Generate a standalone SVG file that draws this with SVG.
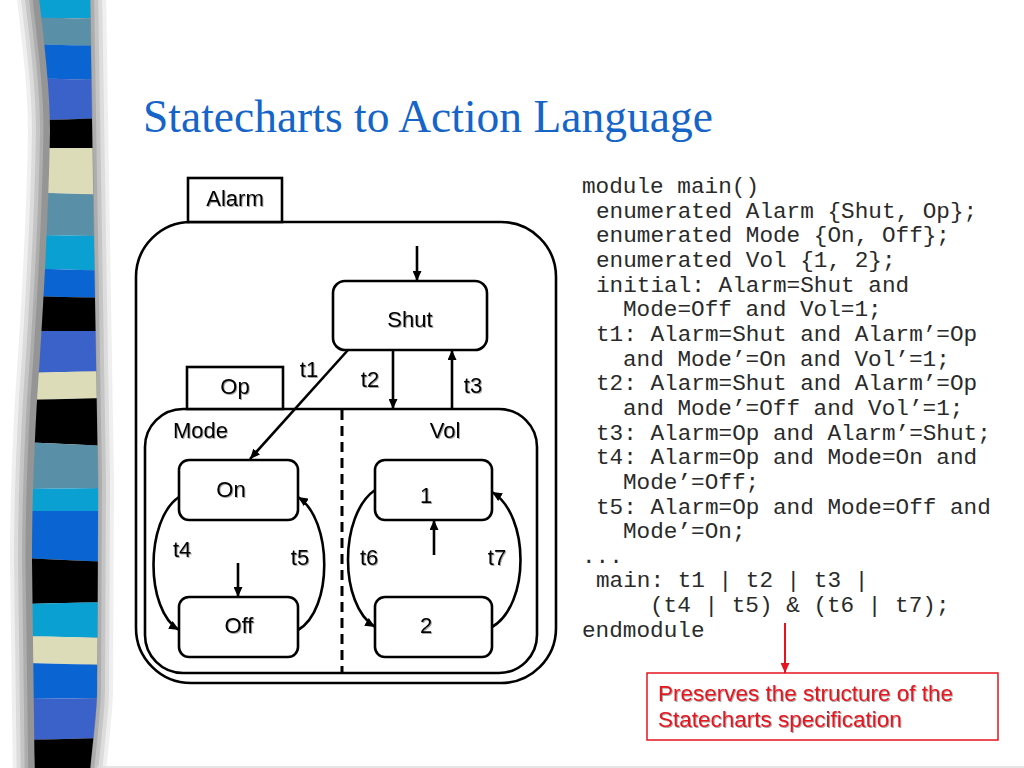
<svg xmlns="http://www.w3.org/2000/svg" width="1024" height="768" viewBox="0 0 1024 768">
  <defs>
    <style>
      .box { fill: #ffffff; stroke: #000000; stroke-width: 2.6; }
      .lbl { font-family: "Liberation Sans", Arial, sans-serif; font-size: 22px; fill: #000000; filter: url(#tshadow); }
      .mid { text-anchor: middle; }
      .conn { fill: none; stroke: #000000; stroke-width: 2.6; }
      .code { font-family: "Liberation Mono", "Courier New", monospace; font-size: 22.7px; fill: #2a2a2a; }
      .red { font-family: "Liberation Sans", Arial, sans-serif; font-size: 22.5px; fill: #e5141e; filter: url(#tshadow); }
      .sh { fill: none; stroke: #505050; stroke-linejoin: round; }
    </style>
    <marker id="ah" markerUnits="userSpaceOnUse" viewBox="0 0 10 9" refX="10" refY="4.5" markerWidth="10" markerHeight="9" orient="auto">
      <path d="M0,0 L10,4.5 L0,9 z" fill="#000000"/>
    </marker>
    <marker id="ahr" markerUnits="userSpaceOnUse" viewBox="0 0 10 9" refX="10" refY="4.5" markerWidth="10" markerHeight="9" orient="auto">
      <path d="M0,0 L10,4.5 L0,9 z" fill="#e5141e"/>
    </marker>
    <filter id="tshadow" x="-10%" y="-10%" width="130%" height="140%">
      <feDropShadow dx="1" dy="1" stdDeviation="0.6" flood-color="#000000" flood-opacity="0.35"/>
    </filter>
    <path id="barshape" d="M38,-10 C44,40 50,90 50,130 C49,200 44,300 37,400 C33,470 32,520 32,560 C33,640 34,700 35,790 L88,790 C93,740 97,710 97,690 C98,600 98,520 98,480 C97,420 96,360 95,300 C94,240 92,120 90,-10 Z"/>
    <clipPath id="barclip">
      <use href="#barshape"/>
    </clipPath>
  </defs>

  <rect x="0" y="0" width="1024" height="768" fill="#ffffff"/>

  <!-- decorative side bar -->
  <g id="sidebar">
    <g transform="translate(-3,0)">
      <use href="#barshape" class="sh" stroke-width="38" stroke-opacity="0.09"/>
      <use href="#barshape" class="sh" stroke-width="30" stroke-opacity="0.12"/>
      <use href="#barshape" class="sh" stroke-width="22" stroke-opacity="0.16"/>
      <use href="#barshape" class="sh" stroke-width="14" stroke-opacity="0.2"/>
      <use href="#barshape" class="sh" stroke-width="7" stroke-opacity="0.25"/>
    </g>
    <g clip-path="url(#barclip)">
      <rect x="20" y="0" width="90" height="18" fill="#0aa0d2"/>
      <polygon points="20,17 110,19 110,46 20,44" fill="#5a8fa8"/>
      <polygon points="20,44 110,46 110,80 20,78" fill="#0a64d2"/>
      <polygon points="20,78 110,80 110,118 20,121" fill="#3a62c8"/>
      <polygon points="20,121 110,118 110,148 20,148" fill="#000000"/>
      <polygon points="20,148 110,148 110,195 20,192" fill="#dcdcb8"/>
      <polygon points="20,192 110,195 110,236 20,235" fill="#5a8fa8"/>
      <polygon points="20,235 110,236 110,271 20,268" fill="#0aa0d2"/>
      <polygon points="20,268 110,271 110,298 20,296" fill="#0a64d2"/>
      <polygon points="20,296 110,298 110,331 20,331" fill="#000000"/>
      <polygon points="20,331 110,331 110,371 20,373" fill="#3a62c8"/>
      <polygon points="20,373 110,371 110,398 20,400" fill="#dcdcb8"/>
      <polygon points="20,400 110,398 110,446 20,442" fill="#000000"/>
      <polygon points="20,442 110,446 110,488 20,489" fill="#5a8fa8"/>
      <polygon points="20,489 110,488 110,511 20,511" fill="#0aa0d2"/>
      <polygon points="20,511 110,511 110,562 20,558" fill="#0a64d2"/>
      <polygon points="20,558 110,562 110,602 20,604" fill="#000000"/>
      <polygon points="20,604 110,602 110,638 20,636" fill="#0aa0d2"/>
      <polygon points="20,636 110,638 110,665 20,663" fill="#dcdcb8"/>
      <polygon points="20,663 110,665 110,698 20,699" fill="#0a64d2"/>
      <polygon points="20,699 110,698 110,738 20,740" fill="#3a62c8"/>
      <polygon points="20,740 110,738 110,790 20,790" fill="#000000"/>
    </g>
  </g>
  <line x1="97" y1="767" x2="1024" y2="767" stroke="#dddddd" stroke-width="1.5"/>

  <!-- title -->
  <text id="title" x="143" y="132" font-family="'Liberation Serif', 'Times New Roman', serif" font-size="45.5" fill="#1565c8">Statecharts to Action Language</text>

  <!-- statechart -->
  <g id="alarm">
    <rect class="box" x="136" y="222" width="420" height="461" rx="55" ry="55"/>
    <rect class="box" x="188" y="178" width="94" height="44"/>
    <text class="lbl mid" x="235" y="206">Alarm</text>
  </g>
  <g id="shut">
    <rect class="box" x="333" y="281" width="154" height="69" rx="12" ry="12"/>
    <text class="lbl mid" x="410" y="327">Shut</text>
  </g>
  <g id="op">
    <rect class="box" x="145" y="409" width="392" height="264" rx="38" ry="38"/>
    <rect class="box" x="187" y="367" width="96" height="42"/>
    <text class="lbl mid" x="235" y="394">Op</text>
    <text class="lbl" x="173" y="438">Mode</text>
    <text class="lbl mid" x="445" y="438">Vol</text>
    <line x1="342" y1="410" x2="342" y2="672" stroke="#000000" stroke-width="3" stroke-dasharray="10,6"/>
  </g>
  <g id="on">
    <rect class="box" x="179" y="460" width="119" height="60" rx="10" ry="10"/>
    <text class="lbl mid" x="231" y="497">On</text>
  </g>
  <g id="off">
    <rect class="box" x="179" y="597" width="119" height="60" rx="10" ry="10"/>
    <text class="lbl mid" x="239" y="633">Off</text>
  </g>
  <g id="vol1">
    <rect class="box" x="375" y="460" width="117" height="60" rx="10" ry="10"/>
    <text class="lbl mid" x="426" y="503">1</text>
  </g>
  <g id="vol2">
    <rect class="box" x="375" y="597" width="117" height="60" rx="10" ry="10"/>
    <text class="lbl mid" x="426" y="633">2</text>
  </g>

  <g id="connectors">
    <line class="conn" x1="417" y1="246" x2="417" y2="281" marker-end="url(#ah)"/>
    <line class="conn" x1="348" y1="350" x2="250" y2="459" marker-end="url(#ah)"/>
    <line class="conn" x1="393" y1="350" x2="393" y2="409" marker-end="url(#ah)"/>
    <line class="conn" x1="452" y1="409" x2="452" y2="350" marker-end="url(#ah)"/>
    <line class="conn" x1="238" y1="563" x2="238" y2="597" marker-end="url(#ah)"/>
    <line class="conn" x1="434" y1="555" x2="434" y2="520" marker-end="url(#ah)"/>
    <path class="conn" d="M179,497 C145,520 145,610 179,630" marker-end="url(#ah)"/>
    <path class="conn" d="M298,630 C333,610 333,520 298,497" marker-end="url(#ah)"/>
    <path class="conn" d="M375,490 C339,515 339,605 375,627" marker-end="url(#ah)"/>
    <path class="conn" d="M492,627 C530,605 530,515 492,492" marker-end="url(#ah)"/>
    <text class="lbl mid" x="309" y="377">t1</text>
    <text class="lbl mid" x="370" y="387">t2</text>
    <text class="lbl mid" x="473" y="393">t3</text>
    <text class="lbl" x="173" y="557">t4</text>
    <text class="lbl mid" x="300" y="565">t5</text>
    <text class="lbl" x="360" y="565">t6</text>
    <text class="lbl mid" x="497" y="565">t7</text>
  </g>

  <!-- code -->
  <g id="code" class="code">
    <text x="582" y="193">module main()</text>
    <text x="596" y="217.6">enumerated Alarm {Shut, Op};</text>
    <text x="596" y="242.3">enumerated Mode {On, Off};</text>
    <text x="596" y="267">enumerated Vol {1, 2};</text>
    <text x="596" y="291.6">initial: Alarm=Shut and</text>
    <text x="623" y="316.3">Mode=Off and Vol=1;</text>
    <text x="596" y="340.9">t1: Alarm=Shut and Alarm’=Op</text>
    <text x="623" y="365.6">and Mode’=On and Vol’=1;</text>
    <text x="596" y="390.2">t2: Alarm=Shut and Alarm’=Op</text>
    <text x="623" y="414.9">and Mode’=Off and Vol’=1;</text>
    <text x="596" y="439.5">t3: Alarm=Op and Alarm’=Shut;</text>
    <text x="596" y="464.2">t4: Alarm=Op and Mode=On and</text>
    <text x="623" y="488.8">Mode’=Off;</text>
    <text x="596" y="513.5">t5: Alarm=Op and Mode=Off and</text>
    <text x="623" y="538.1">Mode’=On;</text>
    <text x="582" y="562.8">...</text>
    <text x="596" y="587.4">main: t1 | t2 | t3 |</text>
    <text x="650" y="612.1">(t4 | t5) &amp; (t6 | t7);</text>
    <text x="582" y="636.7">endmodule</text>
  </g>

  <!-- note -->
  <g id="note">
    <line x1="785" y1="623" x2="785" y2="673" stroke="#e5141e" stroke-width="2" marker-end="url(#ahr)"/>
    <rect x="647" y="673" width="351" height="67" fill="#ffffff" stroke="#e5141e" stroke-width="1.5"/>
    <text class="red" x="658" y="701">Preserves the structure of the</text>
    <text class="red" x="658" y="727">Statecharts specification</text>
  </g>
</svg>
